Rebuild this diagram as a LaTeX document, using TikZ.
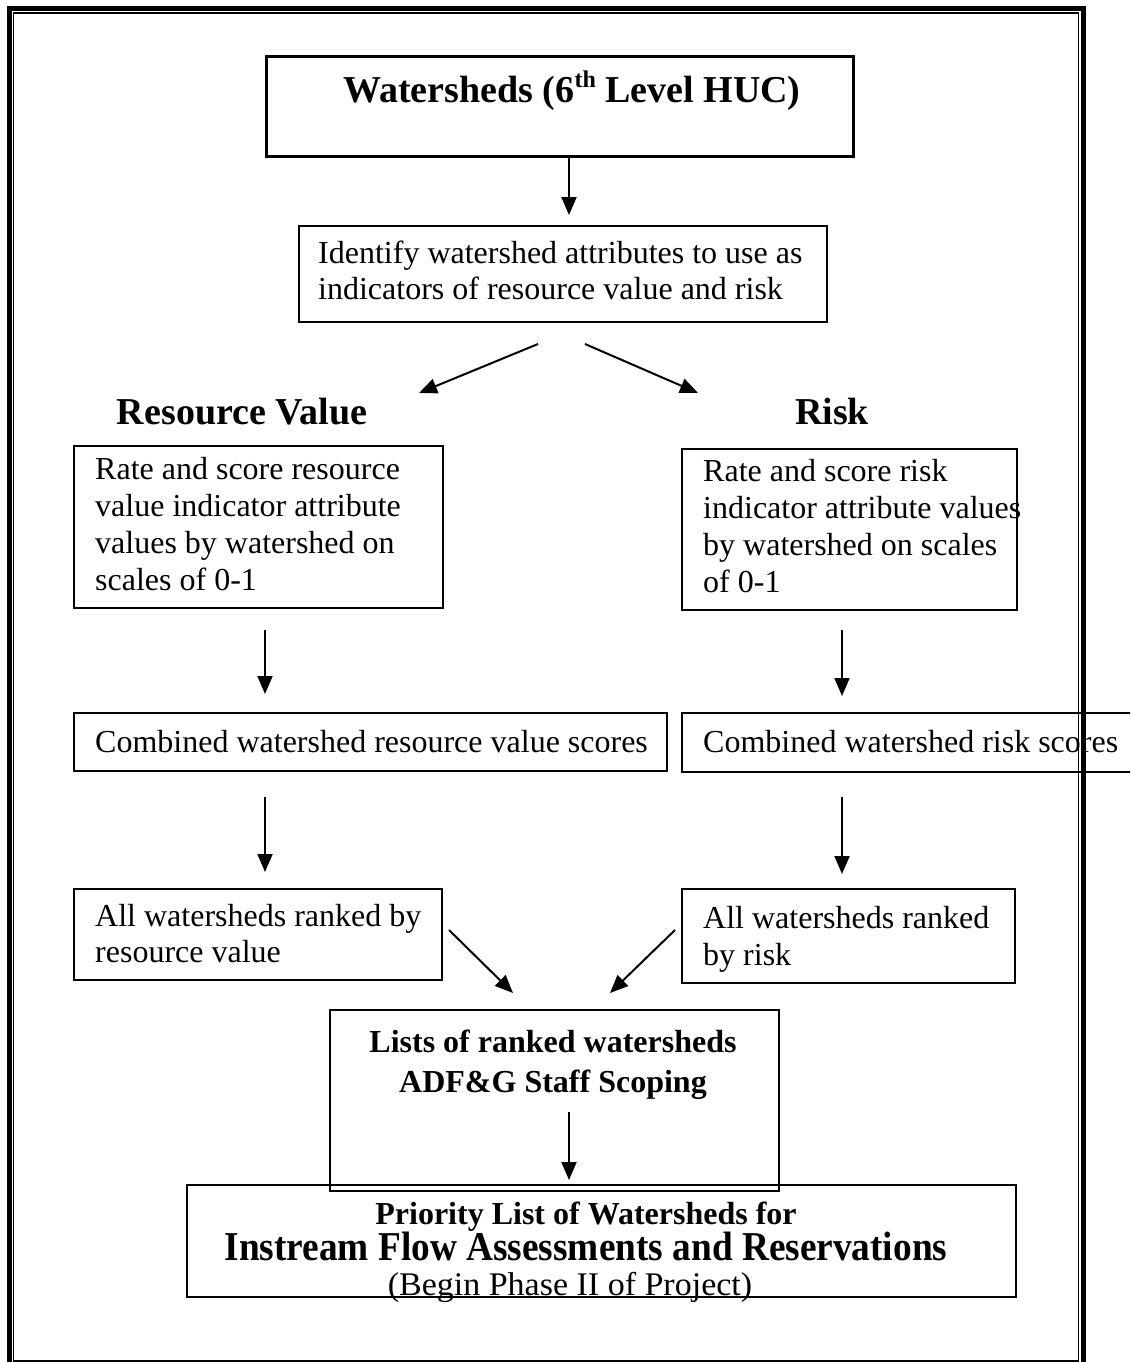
\documentclass[tikz,border=0pt]{standalone}
\usepackage{fontspec}
\setmainfont{Liberation Serif}
\usetikzlibrary{arrows.meta}
\begin{document}
\begin{tikzpicture}[x=1pt,y=-1pt,
  box/.style={draw, line width=2pt, inner sep=0pt, anchor=north west},
  arr/.style={line width=2pt, -{Triangle[length=18pt,width=15pt]}},
  txt/.style={anchor=base west, inner sep=0pt, font=\fontsize{32}{37}\selectfont},
  ctxt/.style={anchor=base, inner sep=0pt, font=\fontsize{33}{38}\selectfont},
  bold/.style={anchor=base, inner sep=0pt, font=\fontsize{32}{37}\selectfont\bfseries},
  head/.style={anchor=base, inner sep=0pt, font=\fontsize{38}{43}\selectfont\bfseries},
  big/.style={anchor=base, inner sep=0pt, font=\fontsize{41}{47}\selectfont\bfseries}]
\useasboundingbox (0,0) rectangle (1130,1362);
\clip (0,0) rectangle (1130,1362);
% outer frame
\draw[line width=5pt] (9.5,8.5) rectangle (1083.5,1385);
\draw[line width=1.5pt] (13.5,13) rectangle (1078.5,1361.2);
% boxes
\node[box, line width=3pt, minimum width=587pt, minimum height=100pt] (top) at (265,55) {};
\node[box, minimum width=528pt, minimum height=96pt] (id) at (298,225) {};
\node[box, minimum width=369pt, minimum height=162pt] (rv1) at (73,445) {};
\node[box, minimum width=335pt, minimum height=161pt] (r1) at (681,448) {};
\node[box, minimum width=593pt, minimum height=58pt] (rv2) at (73,712) {};
\node[box, minimum width=452pt, minimum height=59pt] (r2) at (681,712) {};
\node[box, minimum width=368pt, minimum height=91pt] (rv3) at (73,888) {};
\node[box, minimum width=333pt, minimum height=94pt] (r3) at (681,888) {};
\node[box, minimum width=449pt, minimum height=181pt] (lists) at (329,1009) {};
\node[box, minimum width=829pt, minimum height=112pt] (prio) at (186,1184) {};
% texts
\node[head] (t0) at (572,103) {Watersheds (6\raisebox{0.42em}{\fontsize{24}{24}\selectfont th} Level HUC)};
\node[txt] (t1a) at (318,263) {Identify watershed attributes to use as};
\node[txt] (t1b) at (318,299) {indicators of resource value and risk};
\node[head] (hrv) at (242,424) {Resource Value};
\node[head] (hr) at (832,424) {Risk};
\node[txt] (t2a) at (95,479) {Rate and score resource};
\node[txt] (t2b) at (95,516) {value indicator attribute};
\node[txt] (t2c) at (95,553) {values by watershed on};
\node[txt] (t2d) at (95,590) {scales of 0-1};
\node[txt] (t3a) at (703,481) {Rate and score risk};
\node[txt] (t3b) at (703,518) {indicator attribute values};
\node[txt] (t3c) at (703,555) {by watershed on scales};
\node[txt] (t3d) at (703,592) {of 0-1};
\node[txt] (t4) at (95,752) {Combined watershed resource value scores};
\node[txt] (t5) at (703,752) {Combined watershed risk scores};
\node[txt] (t6a) at (95,926) {All watersheds ranked by};
\node[txt] (t6b) at (95,962) {resource value};
\node[txt] (t7a) at (703,928) {All watersheds ranked};
\node[txt] (t7b) at (703,965) {by risk};
\node[bold] (t8a) at (553,1052) {Lists of ranked watersheds};
\node[bold] (t8b) at (553,1092) {ADF\&G Staff Scoping};
\node[bold] (t9a) at (586,1224) {Priority List of Watersheds for};
\node[big] (t9b) at (586,1260) {\scalebox{0.91}[1]{Instream Flow Assessments and Reservations}};
\node[ctxt] (t9c) at (570,1295) {\scalebox{1.03}[1]{(Begin Phase II of Project)}};
% connector ends
\coordinate (a1e) at (569,215);
\coordinate (a2s) at (538,344); \coordinate (a2e) at (419,393);
\coordinate (a3s) at (585,344); \coordinate (a3e) at (698,393);
\coordinate (a4s) at (265,630); \coordinate (a4e) at (265,694);
\coordinate (a5s) at (842,630); \coordinate (a5e) at (842,696);
\coordinate (a6s) at (265,797); \coordinate (a6e) at (265,872);
\coordinate (a7s) at (842,797); \coordinate (a7e) at (842,874);
\coordinate (a8s) at (449,930); \coordinate (a8e) at (513,993);
\coordinate (a9s) at (675,930); \coordinate (a9e) at (610,993);
\coordinate (a10s) at (569,1112); \coordinate (a10e) at (569,1180);
\draw[arr] (top.south -| a1e) -- (a1e);
\draw[arr] (a2s) -- (a2e);
\draw[arr] (a3s) -- (a3e);
\draw[arr] (a4s) -- (a4e);
\draw[arr] (a5s) -- (a5e);
\draw[arr] (a6s) -- (a6e);
\draw[arr] (a7s) -- (a7e);
\draw[arr] (a8s) -- (a8e);
\draw[arr] (a9s) -- (a9e);
\draw[arr] (a10s) -- (a10e);
\end{tikzpicture}
\end{document}
